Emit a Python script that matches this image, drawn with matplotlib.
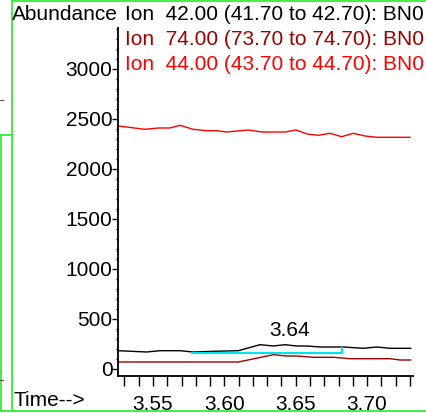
import matplotlib
matplotlib.use("Agg")
import matplotlib.pyplot as plt
from matplotlib.lines import Line2D
from matplotlib.ticker import MultipleLocator

plt.rcParams['font.family'] = ['Liberation Sans', 'DejaVu Sans']

W, H = 426, 413
FS = 15

# ion 44 (red)
t44 = [3.5257, 3.5444, 3.5537, 3.5619, 3.5689, 3.5782, 3.5876, 3.5946, 3.6016, 3.6168,
       3.6262, 3.6425, 3.6502, 3.6581, 3.6658, 3.6740, 3.6822, 3.6904, 3.6986, 3.7068, 3.7301]
a44 = [2430, 2397, 2410, 2410, 2437, 2397, 2383, 2383, 2370, 2390,
       2370, 2370, 2390, 2350, 2337, 2357, 2323, 2357, 2330, 2317, 2317]

# ion 42 (black)
t42 = [3.5257, 3.5456, 3.5549, 3.5689, 3.5782, 3.5923, 3.6098, 3.6250, 3.6344, 3.6425,
       3.6507, 3.6577, 3.6671, 3.6834, 3.6974, 3.7068, 3.7161, 3.7306]
a42 = [183, 170, 183, 183, 170, 177, 183, 243, 230, 243,
       230, 230, 220, 220, 207, 220, 207, 207]

# ion 74 (dark red)
t74 = [3.5257, 3.6098, 3.6344, 3.6437, 3.6507, 3.6624, 3.6764, 3.6881, 3.7161, 3.7231, 3.7306]
a74 = [70, 70, 143, 130, 130, 117, 117, 103, 103, 90, 90]

# integration baseline (cyan)
base_t = [3.5777, 3.6825, 3.6825]
base_a = [165, 165, 215]

peak_label = "3.64"
peak_t, peak_a = 3.646, 383

headers = ["Ion  42.00 (41.70 to 42.70): BN0",
           "Ion  74.00 (73.70 to 74.70): BN0",
           "Ion  44.00 (43.70 to 44.70): BN0"]
header_colors = ["black", "#9b0000", "#ff0000"]


def fx(x):
    return x / W


def fy(y):
    return 1 - y / H


fig = plt.figure(figsize=(W / 100, H / 100), dpi=100)
ax = fig.add_axes([fx(118), fy(376), fx(413) - fx(118), fy(28) - fy(376)])

ax.plot(t44, a44, color="#ff0000", lw=1)
ax.plot(t42, a42, color="black", lw=1)
ax.plot(t74, a74, color="#9b0000", lw=1)
ax.plot(base_t, base_a, color="#00e5ee", lw=1.5)
ax.text(peak_t, peak_a, peak_label, ha="center", va="center", fontsize=FS)

ax.set_xlim(3.5255, 3.7322)
ax.set_ylim(-70, 3410)
for s in ["top", "right"]:
    ax.spines[s].set_visible(False)
for s in ["left", "bottom"]:
    ax.spines[s].set_linewidth(1.3)

ax.xaxis.set_major_locator(MultipleLocator(0.05))
ax.xaxis.set_minor_locator(MultipleLocator(0.01))
ax.xaxis.set_major_formatter(plt.FuncFormatter(lambda v, p: f"{v:.2f}"))
ax.yaxis.set_major_locator(MultipleLocator(500))
ax.yaxis.set_minor_locator(MultipleLocator(100))
ax.tick_params(axis="x", which="both", direction="out", length=7, width=1, labelsize=FS, pad=7)
ax.tick_params(axis="y", which="major", direction="out", length=4, width=1, labelsize=FS, pad=0)
ax.tick_params(axis="y", which="minor", direction="out", length=1.5, width=1)

fig.text(fx(12), fy(15), "Abundance", ha="left", va="center", fontsize=FS)
for i, (txt, c) in enumerate(zip(headers, header_colors)):
    fig.text(fx(125), fy(15 + 24.5 * i), txt, ha="left", va="center", fontsize=FS, color=c)
fig.text(fx(13), fy(400), "Time-->", ha="left", va="center", fontsize=FS)

# green frame lines
green = "#33ee33"
for xs, ys in [([11.5, 11.5], [1, 411]), ([11.5, 426], [1, 1]), ([0, 426], [411, 411]),
               ([0, 11.5], [135, 135]), ([0.5, 0.5], [135, 411])]:
    fig.add_artist(Line2D([fx(x) for x in xs], [fy(y) for y in ys], color=green, lw=1.3))

# tiny stray marks at the far left
for y in [100, 380]:
    fig.add_artist(Line2D([fx(0), fx(2.5)], [fy(y), fy(y)], color="#555555", lw=0.8))

fig.savefig("out.png", dpi=100)
